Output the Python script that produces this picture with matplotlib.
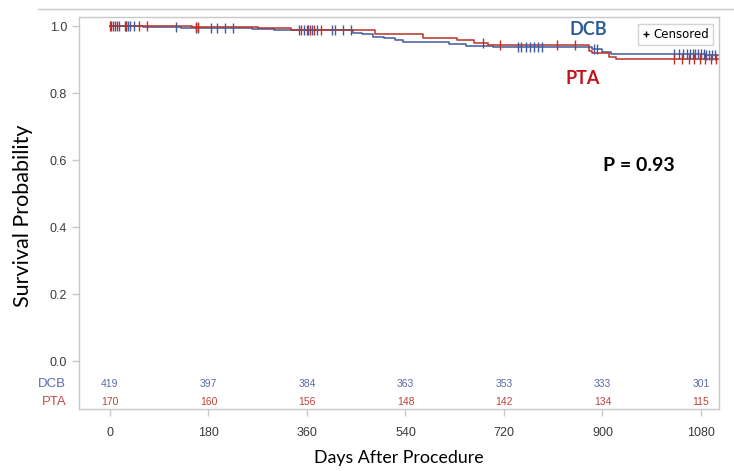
import numpy as np
import matplotlib
matplotlib.use('Agg')
import matplotlib.pyplot as plt
from matplotlib.lines import Line2D

# Kaplan-Meier step estimates (days, survival)
dcb_times = [0, 60, 130, 260, 300, 445, 460, 480, 500, 520, 535, 620, 650, 700, 880, 900, 915, 1090, 1113]
dcb_surv = [1.0, 0.998, 0.995, 0.991, 0.988, 0.980, 0.975, 0.968, 0.963, 0.957, 0.951, 0.945, 0.940, 0.936, 0.930, 0.923, 0.916, 0.912, 0.912]
pta_times = [0, 150, 270, 330, 485, 572, 634, 665, 690, 875, 880, 912, 925, 1113]
pta_surv = [1.0, 0.997, 0.993, 0.987, 0.976, 0.963, 0.958, 0.950, 0.943, 0.925, 0.918, 0.908, 0.901, 0.901]

# censored observations (days)
dcb_censor = [2, 9, 16, 27, 30, 33, 36, 44, 120, 157, 160, 185, 195, 210, 225, 345, 355, 362, 370,
              378, 405, 412, 425, 440, 745, 752, 760, 768, 775, 782, 790, 885, 890, 1030, 1040,
              1048, 1055, 1060, 1065, 1070, 1075, 1080, 1085, 1090, 1095, 1100, 1105]
pta_censor = [0, 5, 12, 30, 53, 68, 157, 160, 350, 360, 365, 372, 385, 682, 713, 817, 850,
              1030, 1045, 1058, 1068, 1078, 1088, 1098, 1108]

# number at risk
risk_days = [0, 180, 360, 540, 720, 900, 1080]
dcb_risk = [419, 397, 384, 363, 353, 333, 301]
pta_risk = [170, 160, 156, 148, 142, 134, 115]

blue = '#3f5a9c'
red = '#b8322a'
grey = '#c8c8c8'


def step_value(times, surv, t):
    idx = np.searchsorted(times, t, side='right') - 1
    return np.array(surv)[idx]


fig = plt.figure(figsize=(7.34, 4.71), dpi=100)
ax = fig.add_axes([0.1076, 0.1316, 0.872, 0.8323])

ax.step(dcb_times, dcb_surv, where='post', color=blue, lw=1.1)
ax.step(pta_times, pta_surv, where='post', color=red, lw=1.1)
ax.plot(dcb_censor, step_value(dcb_times, dcb_surv, dcb_censor), ls='none',
        marker='|', color=blue, markersize=7, mew=1)
ax.plot(pta_censor, step_value(pta_times, pta_surv, pta_censor), ls='none',
        marker='|', color=red, markersize=7, mew=1)

ax.set_xlim(-56.6, 1113)
ax.set_ylim(-0.1433, 1.0269)
ax.set_yticks([0, 0.2, 0.4, 0.6, 0.8, 1.0])
ax.set_yticklabels(['0.0', '0.2', '0.4', '0.6', '0.8', '1.0'])
ax.set_xticks(risk_days)
ax.tick_params(axis='both', colors=grey, labelcolor='#3a3a3a', labelsize=9, length=5, width=1)
ax.tick_params(axis='x', pad=8)
for lab in ax.get_xticklabels() + ax.get_yticklabels():
    lab.set_family('Liberation Sans')
for s in ax.spines.values():
    s.set_color(grey)
    s.set_linewidth(1)

# at-risk table inside the frame
for d, a, b in zip(risk_days, dcb_risk, pta_risk):
    ax.text(d, -0.069, str(a), color='#5a6aa8', fontsize=7.5, ha='center', va='center',
            family='Liberation Sans')
    ax.text(d, -0.122, str(b), color='#b8433a', fontsize=7.5, ha='center', va='center',
            family='Liberation Sans')
ax.text(-0.02, (409 - 384) / 392, 'DCB', transform=ax.transAxes, color='#5a6ab0',
        fontsize=9.5, ha='right', va='center', family='Liberation Sans')
ax.text(-0.02, (409 - 402) / 392, 'PTA', transform=ax.transAxes, color='#c0504d',
        fontsize=9.5, ha='right', va='center', family='Liberation Sans')

ax.text(0.795, 0.969, 'DCB', transform=ax.transAxes, color='#2e5c9a', fontsize=13,
        fontweight='bold', ha='center', va='center', family='Lato')
ax.text(0.7875, 0.842, 'PTA', transform=ax.transAxes, color='#c0141a', fontsize=13,
        fontweight='bold', ha='center', va='center', family='Lato')
ax.text(0.875, 0.622, 'P = 0.93', transform=ax.transAxes, color='black', fontsize=14,
        fontweight='bold', ha='center', va='center', family='Lato')

leg = ax.legend(handles=[Line2D([], [], marker='+', ls='none', color='black', markersize=5)],
                labels=['Censored'], loc='upper right', bbox_to_anchor=(0.9906, 0.982),
                fontsize=8.5, frameon=True, fancybox=False, handlelength=0.6,
                handletextpad=0.3, borderpad=0.35, borderaxespad=0)
leg.get_frame().set_edgecolor(grey)
leg.get_frame().set_linewidth(1)

ax.set_ylabel('Survival Probability', fontsize=15.5, family='Lato')
ax.yaxis.set_label_coords(-0.072, 0.492)
ax.set_xlabel('Days After Procedure', fontsize=12.8, family='Lato', labelpad=8)

fig.add_artist(Line2D([0.052, 1.0], [0.981, 0.981], color=grey, lw=1))

fig.savefig('out.png', dpi=100)
